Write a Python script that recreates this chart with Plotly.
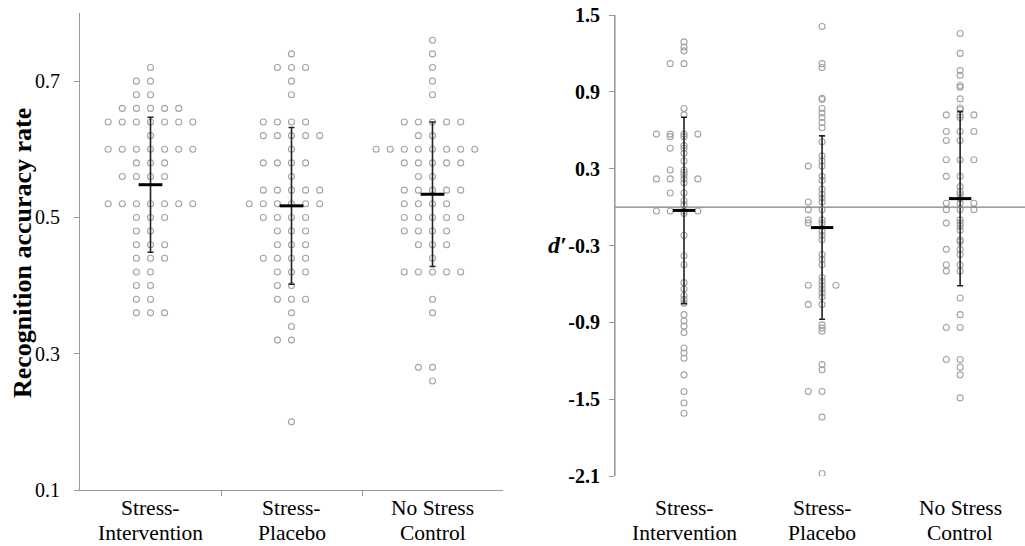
import plotly.graph_objects as go

# ---------------- data ----------------
cat_line1 = ["Stress-", "Stress-", "No Stress"]
cat_line2 = ["Intervention", "Placebo", "Control"]

# Recognition accuracy: value levels and number of participants at each level
acc_si_levels = [0.72, 0.70, 0.68, 0.66, 0.64, 0.62, 0.60, 0.58, 0.56, 0.52, 0.50, 0.48, 0.46, 0.44, 0.42, 0.40, 0.38, 0.36]
acc_si_counts = [1, 2, 2, 5, 7, 1, 7, 3, 4, 7, 3, 2, 3, 3, 2, 2, 2, 3]

acc_sp_levels = [0.74, 0.72, 0.70, 0.68, 0.64, 0.62, 0.60, 0.58, 0.56, 0.54, 0.52, 0.50, 0.48, 0.46, 0.44, 0.42, 0.40, 0.38, 0.36, 0.34, 0.32, 0.20]
acc_sp_counts = [1, 3, 1, 1, 4, 5, 1, 4, 1, 5, 6, 4, 3, 3, 4, 3, 2, 3, 1, 1, 2, 1]

acc_nc_levels = [0.76, 0.74, 0.72, 0.70, 0.68, 0.64, 0.62, 0.60, 0.58, 0.56, 0.54, 0.52, 0.50, 0.48, 0.46, 0.44, 0.42, 0.38, 0.36, 0.28, 0.26]
acc_nc_counts = [1, 1, 1, 1, 1, 5, 2, 8, 5, 2, 5, 4, 5, 4, 3, 1, 5, 1, 1, 2, 1]

acc_mean = [0.548, 0.517, 0.534]
acc_sd = [0.099, 0.115, 0.106]

# d' values per participant
dp_si = [1.29, 1.25, 1.22, 1.12, 1.12, 0.77, 0.72, 0.57, 0.57, 0.57, 0.57, 0.55, 0.55, 0.48, 0.46, 0.46,
         0.42, 0.36, 0.29, 0.29, 0.27, 0.25, 0.22, 0.22, 0.22, 0.22, 0.19, 0.11, 0.11, 0.05, 0.02,
         -0.03, -0.03, -0.03, -0.03, -0.05, -0.22, -0.38, -0.45, -0.59, -0.64, -0.69, -0.72, -0.75,
         -0.84, -0.89, -0.93, -0.98, -1.10, -1.14, -1.18, -1.31, -1.44, -1.53, -1.61]
dp_sp = [1.41, 1.12, 1.09, 0.85, 0.84, 0.77, 0.735, 0.70, 0.66, 0.62, 0.51, 0.40, 0.36, 0.32, 0.32,
         0.24, 0.21, 0.14, 0.10, 0.07, 0.04, 0.04, -0.02, -0.02, -0.10, -0.10, -0.125, -0.125,
         -0.19, -0.22, -0.255, -0.37, -0.41, -0.45, -0.55, -0.58, -0.61, -0.61, -0.61, -0.64, -0.67,
         -0.70, -0.76, -0.76, -0.92, -0.945, -0.97, -1.23, -1.27, -1.44, -1.44, -1.64, -2.08]
dp_nc = [1.355, 1.20, 1.066, 1.03, 0.95, 0.935, 0.845, 0.774, 0.76, 0.72, 0.72, 0.72, 0.70, 0.59, 0.59,
         0.59, 0.52, 0.52, 0.37, 0.37, 0.37, 0.24, 0.24, 0.16, 0.12, 0.097, 0.066, 0.03, 0.03, 0.03,
         -0.02, -0.02, -0.02, -0.10, -0.125, -0.125, -0.15, -0.18, -0.255, -0.27, -0.33, -0.33, -0.37,
         -0.45, -0.45, -0.50, -0.50, -0.71, -0.84, -0.94, -0.94, -1.19, -1.19, -1.25, -1.31, -1.49]

dp_mean = [-0.026, -0.160, 0.066]
dp_sd = [0.728, 0.716, 0.680]

acc_yticks = [0.1, 0.3, 0.5, 0.7]
dp_yticks = [-2.1, -1.5, -0.9, -0.3, 0.3, 0.9, 1.5]

# ---------------- helpers ----------------
def expand(levels, counts):
    out = []
    for v, c in zip(levels, counts):
        out += [v] * c
    return out


def swarm_x(center, values, step=0.1):
    seen = {}
    xs = []
    for v in values:
        k = round(v, 4)
        n = seen.get(k, 0)
        seen[k] = n + 1
        off = ((n + 1) // 2) * (-1 if n % 2 == 1 else 1)
        xs.append(center + off * step)
    return xs


DOT = dict(symbol="circle", size=6, color="rgba(0,0,0,0)", line=dict(color="#a3a3a3", width=1.1))
SERIF = "Liberation Serif, Times New Roman, serif"
AXC = "#9a9a9a"

fig = go.Figure()

acc_groups = [expand(acc_si_levels, acc_si_counts),
              expand(acc_sp_levels, acc_sp_counts),
              expand(acc_nc_levels, acc_nc_counts)]
for i, vals in enumerate(acc_groups):
    fig.add_trace(go.Scatter(x=swarm_x(i, vals), y=vals, mode="markers", marker=DOT,
                             xaxis="x", yaxis="y", hoverinfo="y"))
fig.add_trace(go.Scatter(x=[0, 1, 2], y=acc_mean, mode="markers",
                         marker=dict(symbol="line-ew", size=17, line=dict(color="black", width=3)),
                         error_y=dict(type="data", array=acc_sd, color="#222", thickness=1.6, width=3),
                         xaxis="x", yaxis="y"))

dp_groups = [dp_si, dp_sp, dp_nc]
for i, vals in enumerate(dp_groups):
    fig.add_trace(go.Scatter(x=swarm_x(i, vals), y=vals, mode="markers", marker=DOT,
                             xaxis="x2", yaxis="y2", hoverinfo="y"))
fig.add_trace(go.Scatter(x=[0, 1, 2], y=dp_mean, mode="markers",
                         marker=dict(symbol="line-ew", size=16, line=dict(color="black", width=3)),
                         error_y=dict(type="data", array=dp_sd, color="#222", thickness=1.6, width=3),
                         xaxis="x2", yaxis="y2"))

W, H = 1025, 546
def px_x(p):
    return p / W
def px_y(p):
    return (H - p) / H

axis_common = dict(showgrid=False, zeroline=False, linecolor=AXC, linewidth=1.2, automargin=False)

fig.update_layout(
    width=W, height=H,
    margin=dict(l=0, r=0, t=0, b=0),
    paper_bgcolor="white", plot_bgcolor="white",
    showlegend=False,
    xaxis=dict(domain=[px_x(80), px_x(503)], range=[-0.5, 2.5], showline=True,
               tickvals=[0, 1, 2], ticks="", showticklabels=False, fixedrange=True,
               minor=dict(tickvals=[0.5, 1.5], ticks="outside", ticklen=5, tickcolor=AXC),
               anchor="y", **axis_common),
    yaxis=dict(domain=[px_y(490), px_y(13)], range=[0.1, 0.8], showline=True,
               tickvals=acc_yticks, ticktext=[f"{v:.1f}" for v in acc_yticks],
               ticks="outside", ticklen=5, tickcolor=AXC, ticklabelstandoff=10,
               ticklabeloverflow="allow",
               tickfont=dict(family=SERIF, size=20, color="black"),
               anchor="x", **axis_common),
    xaxis2=dict(domain=[px_x(615), 1.0], range=[-0.5, 2.47], showline=False,
                tickvals=[0, 1, 2], ticks="", showticklabels=False,
                anchor="y2", **axis_common),
    yaxis2=dict(domain=[px_y(476), px_y(15)], range=[-2.1, 1.5], showline=True,
                tickvals=dp_yticks, ticktext=[f"<b>{v:.1f}</b>" for v in dp_yticks],
                ticks="outside", ticklen=5, tickcolor=AXC, ticklabelstandoff=5,
                ticklabeloverflow="allow",
                tickfont=dict(family=SERIF, size=20, color="black"),
                anchor="x2", **axis_common),
)

# zero reference line and the left axis line of the d' panel
fig.add_shape(type="line", xref="x2 domain", yref="y2", x0=0, x1=1, y0=0, y1=0,
              line=dict(color="#808080", width=1.2))
fig.add_shape(type="line", xref="x2 domain", yref="y2 domain", x0=0, x1=0, y0=0, y1=1,
              line=dict(color=AXC, width=1.2))

ann = []
for i in range(3):
    for xr in ("x", "x2"):
        ann.append(dict(x=i, xref=xr, y=px_y(508), yref="paper", text=cat_line1[i],
                        showarrow=False, xanchor="center", yanchor="middle",
                        font=dict(family=SERIF, size=21.5, color="black")))
        ann.append(dict(x=i, xref=xr, y=px_y(533), yref="paper", text=cat_line2[i],
                        showarrow=False, xanchor="center", yanchor="middle",
                        font=dict(family=SERIF, size=21.5, color="black")))
ann.append(dict(x=px_x(22), xref="paper", y=px_y(253), yref="paper",
                text="<b>Recognition accuracy rate</b>", textangle=-90, showarrow=False,
                xanchor="center", yanchor="middle",
                font=dict(family=SERIF, size=26, color="black")))
ann.append(dict(x=px_x(557), xref="paper", y=px_y(245), yref="paper",
                text="<b><i>d\u2032</i></b>", showarrow=False,
                xanchor="center", yanchor="middle",
                font=dict(family=SERIF, size=24, color="black")))
fig.update_layout(annotations=ann)

# remove the default 8 px page margin so the figure fills the 1025x546 window
fig.write_html("out.html", config={"displayModeBar": False},
               post_script="document.body.style.margin='0';")
